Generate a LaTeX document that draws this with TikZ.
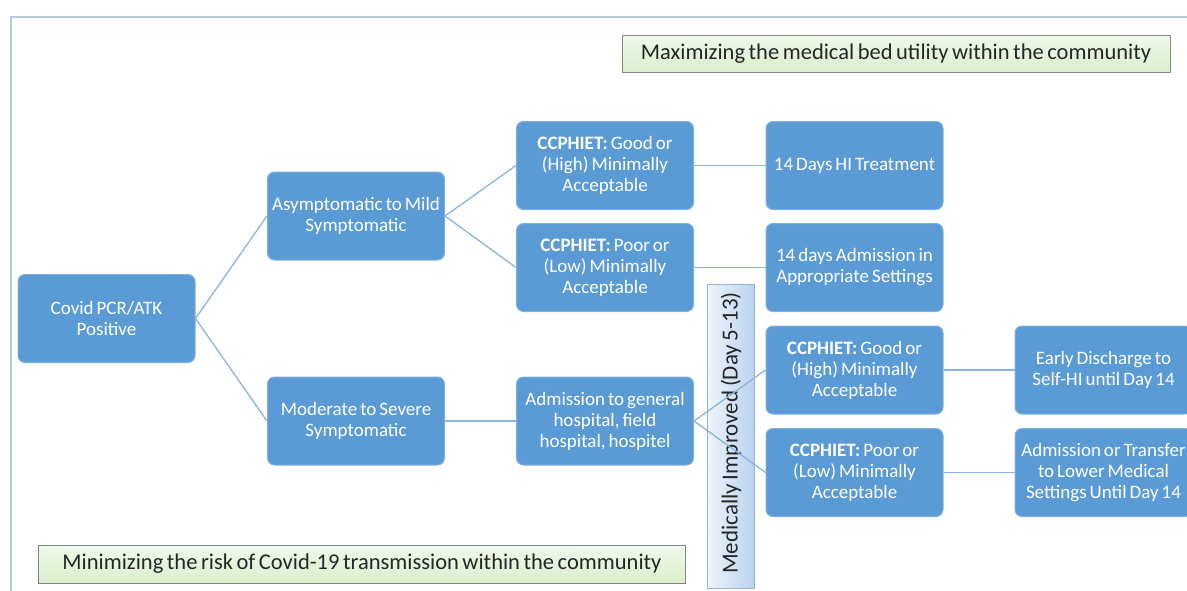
\documentclass[tikz,border=0pt]{standalone}
\usepackage{fontspec}
\setmainfont{Carlito}[WordSpace=0.7]
\definecolor{boxblue}{HTML}{5B9BD5}
\definecolor{boxedge}{HTML}{7DB0E0}
\definecolor{connblue}{HTML}{8DB3DD}
\definecolor{frameblue}{HTML}{B4C7DC}
\definecolor{labeledge}{HTML}{7F8A7F}
\definecolor{labeltop}{HTML}{F1F9EC}
\definecolor{labelbot}{HTML}{D9EFCC}
\definecolor{medleft}{HTML}{EEF5FC}
\definecolor{medright}{HTML}{B9D3EE}
\definecolor{mededge}{HTML}{93B3D6}
\begin{document}
\begin{tikzpicture}[x=1pt,y=-1pt,
  box/.style={draw=boxedge, fill=boxblue, rounded corners=7pt, line width=1pt,
    minimum width=177pt, minimum height=88pt, align=center,
    text=white, font=\fontsize{19}{21}\selectfont, inner sep=0pt},
  conn/.style={draw=connblue, line width=1.3pt},
  lbl/.style={draw=labeledge, line width=1pt, top color=labeltop, bottom color=labelbot,
    font=\fontsize{22.5}{24}\selectfont, inner sep=0pt, text=black!85}
]
\useasboundingbox (0,0) rectangle (1187,590);
\clip (0,0) rectangle (1187,590);
% frame
\draw[frameblue, line width=2pt] (10.5,595) -- (10.5,16.5) -- (1195,16.5);

% label boxes
\node[lbl, minimum width=548pt, minimum height=37pt] (top) at (896,53.5) {Maximizing the medical bed utility within the community};
\node[lbl, minimum width=647pt, minimum height=38pt] (bot) at (362,564) {Minimizing the risk of Covid-19 transmission within the community};

% medically improved box
\node[draw=mededge, line width=1pt, left color=medleft, right color=medright,
  minimum width=47pt, minimum height=304pt, inner sep=0pt] (med) at (730.5,436) {};
\node[rotate=90, font=\fontsize{23}{24}\selectfont, text=black!85] (medtxt) at (731,433) {Medically Improved (Day 5-13)};

% nodes
\node[box] (covid) at (106.5,318.5) {Covid PCR/ATK\\Positive};
\node[box] (asym) at (356,216) {Asymptomatic to Mild\\Symptomatic};
\node[box] (mod) at (356,421) {Moderate to Severe\\Symptomatic};
\node[box] (g1) at (605,165.5) {\textbf{CCPHIET:} Good or\\(High) Minimally\\Acceptable};
\node[box] (p1) at (605,267.5) {\textbf{CCPHIET:} Poor or\\(Low) Minimally\\Acceptable};
\node[box] (hi) at (854.5,165.5) {14 Days HI Treatment};
\node[box] (adm) at (854.5,267.5) {14 days Admission in\\Appropriate Settings};
\node[box] (gen) at (605,421) {Admission to general\\hospital, field\\hospital, hospitel};
\node[box] (g2) at (854.5,370) {\textbf{CCPHIET:} Good or\\(High) Minimally\\Acceptable};
\node[box] (p2) at (854.5,472.5) {\textbf{CCPHIET:} Poor or\\(Low) Minimally\\Acceptable};
\node[box] (early) at (1103.5,370) {Early Discharge to\\Self-HI until Day 14};
\node[box] (trans) at (1103.5,472.5) {Admission or Transfer\\to Lower Medical\\Settings Until Day 14};

% connectors
\draw[conn] (covid.east) -- (asym.west);
\draw[conn] (covid.east) -- (mod.west);
\draw[conn] (asym.east) -- (g1.west);
\draw[conn] (asym.east) -- (p1.west);
\draw[conn] (g1.east) -- (hi.west);
\draw[conn] (p1.east) -- (adm.west);
\draw[conn] (mod.east) -- (gen.west);
\draw[conn] (gen.east) -- (g2.west);
\draw[conn] (gen.east) -- (p2.west);
\draw[conn] (g2.east) -- (early.west);
\draw[conn] (p2.east) -- (trans.west);
\end{tikzpicture}
\end{document}
